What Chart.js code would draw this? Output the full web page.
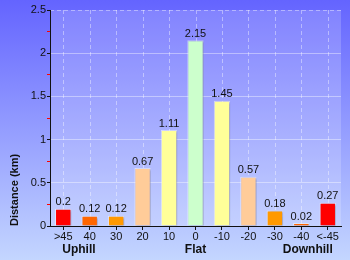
<!DOCTYPE html>
<html>
<head>
<meta charset="utf-8">
<script src="https://cdn.jsdelivr.net/npm/chart.js@4"></script>
<style>
  html, body { margin: 0; padding: 0; background: #6666ff; }
  #wrap { width: 350px; height: 260px; }
</style>
</head>
<body>
<div id="wrap"><canvas id="myChart" width="350" height="260"></canvas></div>
<script>
// gradient categories (degrees)
var labels = ['>45', '40', '30', '20', '10', '0', '-10', '-20', '-30', '-40', '<-45'];
// distance in km per gradient
var distance = [0.2, 0.12, 0.12, 0.67, 1.11, 2.15, 1.45, 0.57, 0.18, 0.02, 0.27];
var barColors = ['#ff0000', '#ff6600', '#ff9900', '#ffcc99', '#ffff99', '#ccffcc',
	'#ffff99', '#ffcc99', '#ff9900', '#ff6600', '#ff0000'];
var groups = ['Uphill', 'Flat', 'Downhill'];

var bgPlugin = {
	id: 'bg',
	beforeDraw: function(chart) {
		var ctx = chart.ctx;
		var a = chart.chartArea;
		var g = ctx.createLinearGradient(0, 0, 0, chart.height);
		g.addColorStop(0, '#6464ff');
		g.addColorStop(1, '#c4d6ff');
		ctx.save();
		ctx.fillStyle = g;
		ctx.fillRect(0, 0, chart.width, chart.height);
		ctx.fillStyle = 'rgba(255,255,255,0.18)';
		ctx.fillRect(a.left, a.top, a.right - a.left, a.bottom - a.top);
		// dashed vertical grid at each category, plus dashed top line
		var x = chart.scales.x;
		ctx.strokeStyle = 'rgba(255,255,255,0.4)';
		ctx.lineWidth = 1;
		ctx.setLineDash([4, 3]);
		ctx.beginPath();
		labels.forEach(function(l, i) {
			var px = Math.round(x.getPixelForValue(i)) + 0.5;
			ctx.moveTo(px, a.top);
			ctx.lineTo(px, a.bottom);
		});
		ctx.moveTo(a.left, a.top + 0.5);
		ctx.lineTo(a.right, a.top + 0.5);
		ctx.stroke();
		ctx.restore();
	},
	beforeDatasetsDraw: function(chart) {
		// soft shadow under the bars
		chart.ctx.save();
		chart.ctx.shadowColor = 'rgba(0,0,60,0.25)';
		chart.ctx.shadowOffsetX = 2;
		chart.ctx.shadowOffsetY = 1;
		chart.ctx.shadowBlur = 2;
	},
	afterDatasetsDraw: function(chart) {
		var ctx = chart.ctx;
		ctx.restore();
		ctx.save();
		ctx.font = '11px "Liberation Sans", Arial, sans-serif';
		ctx.fillStyle = '#111';
		ctx.textAlign = 'center';
		ctx.textBaseline = 'bottom';
		chart.getDatasetMeta(0).data.forEach(function(bar, i) {
			ctx.fillText(String(distance[i]), bar.x, bar.y - 1);
		});
		ctx.restore();
	},
	afterDraw: function(chart) {
		var ctx = chart.ctx;
		var x = chart.scales.x;
		ctx.save();
		ctx.font = 'bold 12px "Liberation Sans", Arial, sans-serif';
		ctx.fillStyle = '#111';
		ctx.textBaseline = 'middle';
		ctx.textAlign = 'left';
		ctx.fillText(groups[0], x.getPixelForValue(0) - 1, 250);
		ctx.textAlign = 'center';
		ctx.fillText(groups[1], x.getPixelForValue(5), 250);
		ctx.textAlign = 'right';
		ctx.fillText(groups[2], x.getPixelForValue(10) + 5, 250);
		ctx.restore();
	}
};

var ctx = document.getElementById('myChart').getContext('2d');
var chart = new Chart(ctx, {
	type: 'bar',
	data: {
		labels: labels,
		datasets: [{
			label: 'Distance (km)',
			data: distance,
			backgroundColor: barColors,
			borderColor: 'rgba(255,255,255,0.5)',
			borderWidth: 1,
			minBarLength: 3,
			barPercentage: 0.62,
			categoryPercentage: 1
		}]
	},
	options: {
		responsive: false,
		animation: false,
		layout: { padding: { top: 10, right: 9, left: 0, bottom: 0 } },
		plugins: {
			legend: { display: false },
			tooltip: { enabled: false }
		},
		scales: {
			x: {
				afterFit: function(scale) { scale.height = 34; },
				border: { color: '#111' },
				grid: {
					offset: false,
					drawOnChartArea: false,
					tickColor: '#111',
					tickLength: 4
				},
				ticks: {
					color: '#111',
					padding: 0,
					maxRotation: 0,
					autoSkip: false,
					font: { family: '"Liberation Sans", Arial, sans-serif', size: 11 }
				}
			},
			y: {
				min: 0,
				max: 2.5,
				afterFit: function(scale) { scale.width = 50; },
				border: { color: '#111' },
				grid: {
					color: function(c) {
						return c.tick && c.tick.value % 0.5 === 0 && c.tick.value < 2.5 ? 'rgba(255,255,255,0.4)' : 'rgba(0,0,0,0)';
					},
					tickColor: function(c) {
						return c.tick && c.tick.value % 0.5 === 0 ? '#111' : '#ff0000';
					},
					tickLength: 3
				},
				ticks: {
					stepSize: 0.25,
					color: '#111',
					padding: 1,
					font: { family: '"Liberation Sans", Arial, sans-serif', size: 11 },
					callback: function(v) {
						return v % 0.5 === 0 ? String(v) : '';
					}
				},
				title: {
					display: true,
					text: 'Distance (km)',
					align: 'start',
					color: '#111',
					padding: { top: 8, bottom: 0 },
					font: { family: '"Liberation Sans", Arial, sans-serif', size: 11, weight: 'bold' }
				}
			}
		}
	},
	plugins: [bgPlugin]
});
</script>
</body>
</html>
